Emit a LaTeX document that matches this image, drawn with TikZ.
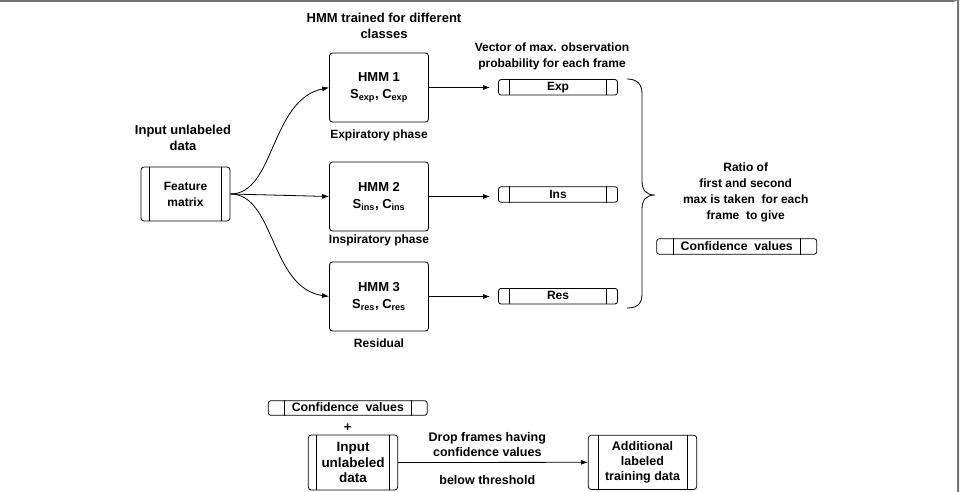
\documentclass[tikz,border=0pt]{standalone}
\usepackage{fontspec}
\setmainfont{Liberation Sans}
\usetikzlibrary{arrows.meta}
\newcommand\sidebars[2]{%
  \draw ([xshift=#2]#1.north west) -- ([xshift=#2]#1.south west);
  \draw ([xshift=-#2]#1.north east) -- ([xshift=-#2]#1.south east);}
\begin{document}
\begin{tikzpicture}[x=1pt,y=-1pt,
  every node/.style={font=\fontsize{12}{16}\selectfont\bfseries, inner sep=0pt, align=center},
  big/.style={font=\fontsize{13}{16}\selectfont\bfseries},
  hmmbox/.style={draw, rounded corners=3pt, minimum width=99pt, minimum height=69pt, line width=0.8pt, font=\fontsize{13}{17}\selectfont\bfseries},
  vecbox/.style={draw, rounded corners=2.5pt, minimum height=15.5pt, line width=0.8pt},
  procbox/.style={draw, rounded corners=3pt, line width=0.8pt},
  arr/.style={-{Latex[length=7pt,width=5pt]}, line width=0.8pt},
  line width=0.8pt]
\useasboundingbox (0,0) rectangle (960,492);
% frame
\draw[line width=2pt, draw=black!55] (0,1) -- (953,1) arc[start angle=90,end angle=0,radius=5] -- (958,492);

% feature matrix
\node[procbox, minimum width=89pt, minimum height=54pt] (fm) at (185.5,194) {Feature\\matrix};
\sidebars{fm}{8.6pt}
\node[big] (in1) at (183,138) {Input unlabeled\\data};

% HMM boxes
\node[hmmbox] (h1) at (379,87.5) {HMM 1\\S\textsubscript{exp}, C\textsubscript{exp}};
\node[hmmbox] (h2) at (379,196.5) {HMM 2\\S\textsubscript{ins}, C\textsubscript{ins}};
\node[hmmbox] (h3) at (379,296.5) {HMM 3\\S\textsubscript{res}, C\textsubscript{res}};
\node[big] (t1) at (384,26) {HMM trained for different\\classes};
\node (l1) at (379,135) {Expiratory phase};
\node (l2) at (379,240) {Inspiratory phase};
\node (l3) at (379,343) {Residual};

% vectors
\node[vecbox, minimum width=119pt] (ve) at (558,87.3) {\raisebox{1pt}{Exp}};
\node[vecbox, minimum width=119pt] (vi) at (558,194.5) {\raisebox{1pt}{Ins}};
\node[vecbox, minimum width=119pt] (vr) at (558,296.2) {\raisebox{1pt}{Res}};
\sidebars{ve}{11.7pt}
\sidebars{vi}{11.7pt}
\sidebars{vr}{11.7pt}
\node (t2) at (552,56) {Vector of max. observation\\probability for each frame};

% connectors
\draw[arr] (fm.east) .. controls (275,194) and (270,100) .. (h1.west);
\draw[arr] (fm.east) -- (h2.west);
\draw[arr] (fm.east) .. controls (275,194) and (270,288) .. (h3.west);
\draw[arr, shorten >=8pt] (h1.east) -- (ve.west |- h1.east);
\draw[arr, shorten >=8pt] (h2.east) -- (vi.west |- h2.east);
\draw[arr, shorten >=8pt] (h3.east) -- (vr.west |- h3.east);

% brace
\draw (627,79) .. controls (637,79) and (642,84) .. (642,94) -- (642,181)
  .. controls (642,190) and (646,195) .. (655,195)
  .. controls (646,195) and (642,200) .. (642,209) -- (642,294)
  .. controls (642,304) and (637,308) .. (627,308);

\node (t3) at (745.7,192) {Ratio of\\first and second\\max is taken\ \ for each\\frame\ \ to give};
\node[vecbox, minimum width=160pt, font=\fontsize{12.3}{16}\selectfont\bfseries] (cv1) at (736.7,246.5) {\raisebox{1pt}{Confidence\ \ values}};
\sidebars{cv1}{16.6pt}

% bottom
\node[vecbox, minimum width=159pt, minimum height=14.6pt, font=\fontsize{12.3}{16}\selectfont\bfseries] (cv2) at (347.8,408) {\raisebox{1pt}{Confidence\ \ values}};
\sidebars{cv2}{16.7pt}
\node[big] (plus) at (347.7,428) {+};
\node[procbox, big, minimum width=89.4pt, minimum height=55pt, font=\fontsize{13.5}{15.3}\selectfont\bfseries] (iu) at (353,462.5) {Input\\unlabeled\\data};
\sidebars{iu}{8.4pt}
\node[procbox, minimum width=108.4pt, minimum height=54.3pt, font=\fontsize{12.5}{15.3}\selectfont\bfseries] (ad) at (642.5,462.3) {Additional\\labeled\\training data};
\sidebars{ad}{10pt}
\draw[arr] (iu.east) -- (ad.west);
\node[font=\fontsize{12.5}{15}\selectfont\bfseries] (t4) at (487.3,444.5) {Drop frames having\\confidence values};
\node[font=\fontsize{12.5}{15}\selectfont\bfseries] (t5) at (487.3,480.5) {below threshold};
\end{tikzpicture}
\end{document}
